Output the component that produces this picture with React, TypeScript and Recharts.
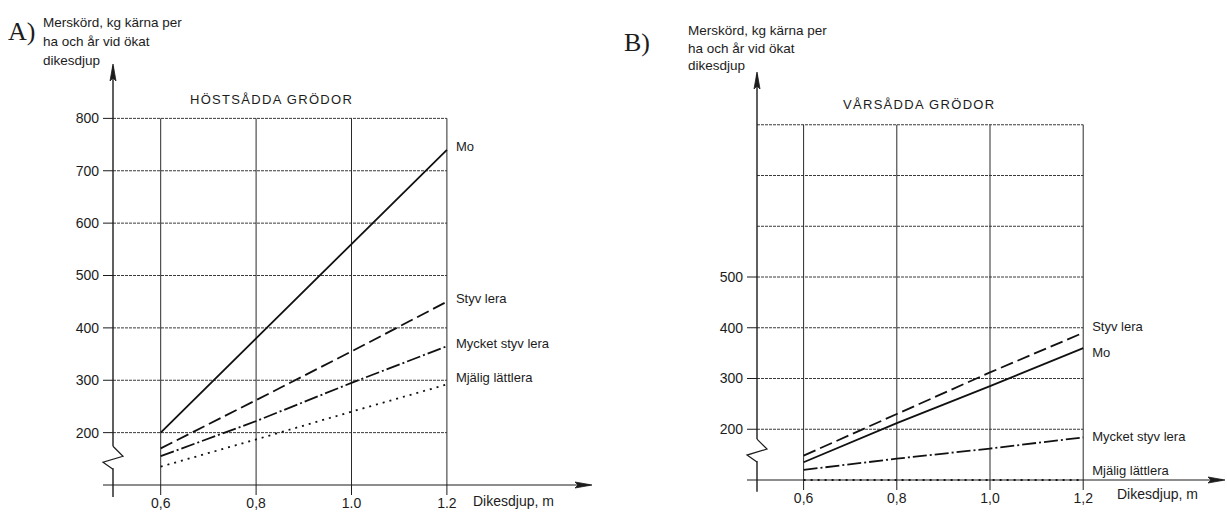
import { LineChart, Line, XAxis, YAxis, ReferenceLine, ReferenceDot } from 'recharts';

// Dikesdjup (m) där kurvorna är avlästa
const DEPTHS = [0.6, 0.8, 1.0, 1.2];

// Höstsådda grödor, merskörd kg kärna per ha och år
const HOST_MO = [200, 380, 560, 740];
const HOST_STYV_LERA = [170, 262, 355, 450];
const HOST_MYCKET_STYV_LERA = [155, 222, 295, 365];
const HOST_MJALIG_LATTLERA = [135, 187, 240, 292];

// Vårsådda grödor
const VAR_STYV_LERA = [148, 230, 312, 390];
const VAR_MO = [135, 212, 285, 360];
const VAR_MYCKET_STYV_LERA = [120, 142, 162, 184];
const VAR_MJALIG_LATTLERA = [100, 100, 100, 100];

const X_TICKS = [0.6, 0.8, 1.0, 1.2];
const X_LABELS_A = ['0,6', '0,8', '1.0', '1.2'];
const X_LABELS_B = ['0,6', '0,8', '1,0', '1,2'];
const Y_TICKS_A = [100, 200, 300, 400, 500, 600, 700, 800];
const Y_TICKS_B = [100, 200, 300, 400, 500];
const GRID_Y = [200, 300, 400, 500, 600, 700, 800];

const INK = '#1c1c1c';
const FONT = '"Liberation Sans", Arial, sans-serif';

type Series = {
  key: string;
  name: string;
  values: number[];
  dash?: string;
  labelDy: number;
};

const HOST_SERIES: Series[] = [
  { key: 'mo', name: 'Mo', values: HOST_MO, labelDy: -3 },
  { key: 'styv', name: 'Styv lera', values: HOST_STYV_LERA, dash: '13 5', labelDy: -3 },
  { key: 'mycket', name: 'Mycket styv lera', values: HOST_MYCKET_STYV_LERA, dash: '14 3 2 3', labelDy: -3 },
  { key: 'mjalig', name: 'Mjälig lättlera', values: HOST_MJALIG_LATTLERA, dash: '2 5', labelDy: -7 },
];

const VAR_SERIES: Series[] = [
  { key: 'styv', name: 'Styv lera', values: VAR_STYV_LERA, dash: '13 5', labelDy: -6 },
  { key: 'mo', name: 'Mo', values: VAR_MO, labelDy: 4 },
  { key: 'mycket', name: 'Mycket styv lera', values: VAR_MYCKET_STYV_LERA, dash: '14 3 2 3', labelDy: -1 },
  { key: 'mjalig', name: 'Mjälig lättlera', values: VAR_MJALIG_LATTLERA, dash: '2 5', labelDy: -10 },
];

const buildRows = (series: Series[]) =>
  DEPTHS.map((depth, i) => {
    const row: Record<string, number> = { depth };
    series.forEach((s) => {
      row[s.key] = s.values[i];
    });
    return row;
  });

const endLabel = (text: string, dy: number) => (p: any) => {
  if (p.index !== DEPTHS.length - 1) return <g />;
  return (
    <text x={p.x + 9} y={p.y + dy} dominantBaseline="central" fontSize={13} fill={INK} fontFamily={FONT}>
      {text}
    </text>
  );
};

// axelbrott på y-axeln
const AxisBreak = (p: any) => (
  <g>
    <rect x={p.cx - 3} y={p.cy - 11} width={6} height={22} fill="#fff" />
    <path
      d={`M${p.cx},${p.cy - 11} L${p.cx + 10},${p.cy - 1} L${p.cx - 10},${p.cy + 5} L${p.cx},${p.cy + 12}`}
      fill="none"
      stroke={INK}
      strokeWidth={1.2}
    />
  </g>
);

const ArrowUp = (p: any) => (
  <path
    d={`M${p.cx},${p.cy - 2} L${p.cx - 3},${p.cy + 15} L${p.cx},${p.cy + 12} L${p.cx + 3},${p.cy + 15} Z`}
    fill={INK}
    stroke={INK}
    strokeWidth={0.8}
  />
);

const ArrowRight = (p: any) => (
  <path
    d={`M${p.cx + 2},${p.cy} L${p.cx - 15},${p.cy - 3} L${p.cx - 12},${p.cy} L${p.cx - 15},${p.cy + 3} Z`}
    fill={INK}
    stroke={INK}
    strokeWidth={0.8}
  />
);

type PanelProps = {
  left: number;
  width: number;
  margin: { top: number; right: number; bottom: number; left: number };
  series: Series[];
  xLabels: string[];
  yTicks: number[];
  breakAt: number;
};

function Panel({ left, width, margin, series, xLabels, yTicks, breakAt }: PanelProps) {
  const data = buildRows(series);
  return (
    <div style={{ position: 'absolute', left, top: 0 }}>
      <LineChart width={width} height={514} data={data} margin={margin}>
        <XAxis
          type="number"
          dataKey="depth"
          domain={[0.5, 1.5]}
          ticks={X_TICKS}
          interval={0}
          tickSize={10}
          tickMargin={3}
          tickFormatter={(v: number) => xLabels[X_TICKS.indexOf(v)] ?? ''}
          tick={{ fontSize: 14, fill: INK }}
          axisLine={{ stroke: INK, strokeWidth: 1.2 }}
          tickLine={{ stroke: INK }}
          height={25}
        />
        <YAxis
          type="number"
          domain={[100, 900]}
          ticks={yTicks}
          interval={0}
          tickSize={10}
          tickMargin={4}
          tickFormatter={(v: number) => (v === 100 ? '' : String(v))}
          tick={{ fontSize: 14, fill: INK }}
          axisLine={{ stroke: INK, strokeWidth: 1.4 }}
          tickLine={{ stroke: INK }}
          width={60}
        />
        {GRID_Y.map((v) => (
          <ReferenceLine
            key={`h${v}`}
            segment={[
              { x: 0.5, y: v },
              { x: 1.2, y: v },
            ]}
            stroke="#3a3a3a"
            strokeWidth={1}
            strokeDasharray="3 1"
          />
        ))}
        {X_TICKS.map((d) => (
          <ReferenceLine
            key={`v${d}`}
            segment={[
              { x: d, y: 100 },
              { x: d, y: 800 },
            ]}
            stroke="#2a2a2a"
            strokeWidth={1}
          />
        ))}
        <ReferenceLine
          segment={[
            { x: 0.5, y: 100 },
            { x: 0.5, y: 77 },
          ]}
          stroke={INK}
          strokeWidth={1.4}
          ifOverflow="visible"
        />
        {series.map((s) => (
          <Line
            key={s.key}
            type="linear"
            dataKey={s.key}
            name={s.name}
            stroke="#111"
            strokeWidth={1.8}
            strokeDasharray={s.dash}
            dot={false}
            activeDot={false}
            isAnimationActive={false}
            label={endLabel(s.name, s.labelDy)}
          />
        ))}
        <ReferenceDot x={0.5} y={breakAt} r={0} shape={AxisBreak} />
        <ReferenceDot x={0.5} y={900} r={0} shape={ArrowUp} ifOverflow="visible" />
        <ReferenceDot x={1.5} y={100} r={0} shape={ArrowRight} ifOverflow="visible" />
      </LineChart>
    </div>
  );
}

const textStyle: React.CSSProperties = {
  position: 'absolute',
  fontFamily: FONT,
  color: INK,
  whiteSpace: 'nowrap',
};

const yTitle = ['Merskörd, kg kärna per', 'ha och år vid ökat', 'dikesdjup'];

export default function App() {
  return (
    <div style={{ position: 'absolute', left: 0, top: 0, width: 1227, height: 514, background: '#fff', overflow: 'hidden', fontFamily: FONT }}>
      <Panel
        left={0}
        width={600}
        margin={{ top: 66, right: 10, bottom: 4, left: 53 }}
        series={HOST_SERIES}
        xLabels={X_LABELS_A}
        yTicks={Y_TICKS_A}
        breakAt={153}
      />
      <Panel
        left={620}
        width={607}
        margin={{ top: 74, right: 4, bottom: 9, left: 77 }}
        series={VAR_SERIES}
        xLabels={X_LABELS_B}
        yTicks={Y_TICKS_B}
        breakAt={159}
      />

      <div style={{ ...textStyle, left: 8, top: 17, fontFamily: '"Liberation Serif", "Times New Roman", serif', fontSize: 26 }}>A)</div>
      <div style={{ ...textStyle, left: 43, top: 13, fontSize: 13.5, lineHeight: '19px' }}>
        {yTitle.map((t) => (
          <div key={t}>{t}</div>
        ))}
      </div>
      <div style={{ ...textStyle, left: 190, top: 92, fontSize: 13, letterSpacing: 1.3 }}>HÖSTSÅDDA GRÖDOR</div>
      <div style={{ ...textStyle, left: 473, top: 493, fontSize: 14 }}>Dikesdjup, m</div>

      <div style={{ ...textStyle, left: 624, top: 28, fontFamily: '"Liberation Serif", "Times New Roman", serif', fontSize: 26 }}>B)</div>
      <div style={{ ...textStyle, left: 688, top: 22, fontSize: 13.5, lineHeight: '17.5px' }}>
        {yTitle.map((t) => (
          <div key={t}>{t}</div>
        ))}
      </div>
      <div style={{ ...textStyle, left: 843, top: 97, fontSize: 13, letterSpacing: 1.3 }}>VÅRSÅDDA GRÖDOR</div>
      <div style={{ ...textStyle, left: 1117, top: 486, fontSize: 14 }}>Dikesdjup, m</div>
    </div>
  );
}
